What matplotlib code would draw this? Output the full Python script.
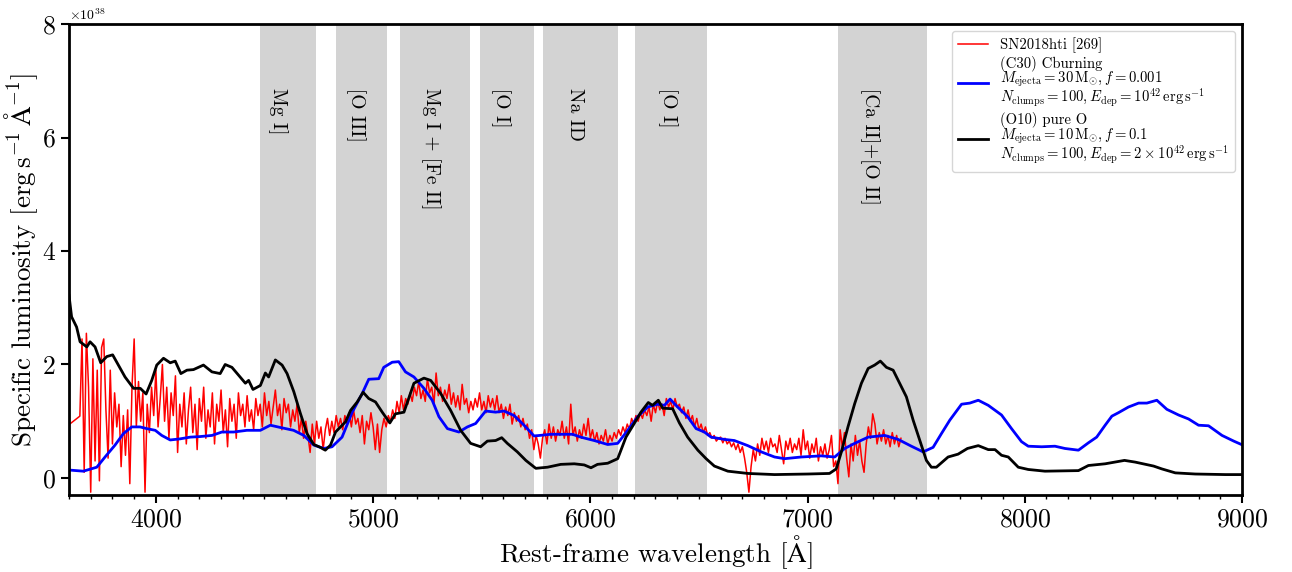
import matplotlib
matplotlib.use("Agg")
import matplotlib.pyplot as plt
from matplotlib.ticker import MultipleLocator

plt.rcParams["font.family"] = "serif"
plt.rcParams["font.serif"] = ["cmr10"]
plt.rcParams["mathtext.fontset"] = "cm"
plt.rcParams["axes.formatter.use_mathtext"] = True
plt.rcParams["axes.unicode_minus"] = False

# --- data (luminosity in units of 1e38 erg/s/A) ---
black_wave = [3600, 3612, 3635, 3651, 3682, 3697, 3720, 3746, 3774, 3801,
              3823, 3858, 3897, 3928, 3955, 3981, 4004, 4035, 4066, 4089,
              4115, 4143, 4173, 4219, 4258, 4296, 4319, 4350, 4388, 4412,
              4427, 4447, 4481, 4504, 4519, 4550, 4581, 4604, 4635, 4665,
              4696, 4727, 4757, 4780, 4804, 4827, 4850, 4873, 4896, 4927,
              4954, 4980, 5011, 5042, 5077, 5103, 5142, 5188, 5234, 5265,
              5311, 5357, 5403, 5449, 5495, 5526, 5564, 5592, 5618, 5664,
              5703, 5749, 5803, 5864, 5926, 5972, 6003, 6033, 6080, 6126,
              6164, 6202, 6233, 6267, 6286, 6313, 6333, 6379, 6410, 6448,
              6495, 6533, 6571, 6633, 6725, 6848, 7002, 7101, 7132, 7155,
              7186, 7217, 7248, 7279, 7309, 7335, 7363, 7394, 7424, 7455,
              7486, 7516, 7547, 7570, 7593, 7647, 7693, 7736, 7786, 7832,
              7863, 7893, 7924, 7970, 8016, 8093, 8247, 8293, 8370, 8459,
              8508, 8593, 8631, 8693, 8785, 8923, 9015]
black_lum = [3.22, 2.84, 2.66, 2.40, 2.31, 2.40, 2.31, 2.03, 2.14, 2.17,
             2.02, 1.78, 1.58, 1.58, 1.48, 1.72, 1.99, 2.11, 2.03, 2.06,
             1.84, 1.90, 1.91, 1.99, 1.87, 1.84, 2.00, 1.95, 1.78, 1.67,
             1.72, 1.56, 1.63, 1.85, 1.78, 2.08, 1.99, 1.84, 1.52, 1.14,
             0.78, 0.59, 0.54, 0.49, 0.58, 0.81, 0.90, 0.99, 1.19, 1.34,
             1.51, 1.40, 1.34, 1.16, 0.97, 1.13, 1.16, 1.67, 1.76, 1.72,
             1.49, 1.19, 0.84, 0.61, 0.55, 0.65, 0.66, 0.71, 0.61, 0.46,
             0.31, 0.17, 0.19, 0.24, 0.25, 0.23, 0.18, 0.24, 0.26, 0.34,
             0.72, 0.96, 1.16, 1.33, 1.28, 1.37, 1.23, 1.22, 0.97, 0.72,
             0.49, 0.34, 0.21, 0.12, 0.08, 0.06, 0.07, 0.08, 0.16, 0.45,
             0.90, 1.31, 1.67, 1.93, 1.99, 2.06, 1.95, 1.90, 1.67, 1.43,
             1.02, 0.67, 0.31, 0.19, 0.19, 0.37, 0.42, 0.52, 0.57, 0.50,
             0.50, 0.40, 0.37, 0.19, 0.15, 0.12, 0.13, 0.22, 0.25, 0.31,
             0.28, 0.21, 0.16, 0.09, 0.07, 0.06, 0.06]

blue_wave = [3600, 3666, 3728, 3766, 3812, 3850, 3889, 3927, 3958, 3997,
             4027, 4066, 4112, 4158, 4204, 4258, 4304, 4358, 4419, 4481,
             4527, 4573, 4634, 4681, 4727, 4773, 4811, 4857, 4904, 4950,
             4980, 5026, 5049, 5088, 5118, 5149, 5188, 5234, 5272, 5303,
             5342, 5395, 5434, 5472, 5518, 5564, 5603, 5649, 5695, 5741,
             5818, 5918, 5956, 6018, 6080, 6126, 6172, 6218, 6264, 6310,
             6341, 6367, 6402, 6448, 6487, 6525, 6556, 6617, 6663, 6725,
             6787, 6848, 6894, 6971, 7063, 7125, 7171, 7217, 7279, 7355,
             7417, 7478, 7532, 7578, 7616, 7655, 7709, 7747, 7786, 7832,
             7893, 7939, 7985, 8016, 8078, 8139, 8185, 8247, 8293, 8331,
             8370, 8401, 8431, 8477, 8524, 8562, 8608, 8654, 8708, 8754,
             8800, 8846, 8908, 8962, 9015]
blue_lum = [0.14, 0.12, 0.19, 0.37, 0.58, 0.78, 0.90, 0.90, 0.87, 0.84,
            0.75, 0.67, 0.69, 0.72, 0.73, 0.75, 0.81, 0.81, 0.84, 0.84,
            0.93, 0.89, 0.84, 0.75, 0.58, 0.52, 0.55, 0.72, 1.16, 1.49,
            1.74, 1.75, 1.95, 2.04, 2.05, 1.87, 1.78, 1.58, 1.37, 1.08,
            0.87, 0.81, 0.90, 0.96, 1.18, 1.16, 1.18, 1.10, 0.93, 0.74,
            0.77, 0.77, 0.72, 0.66, 0.59, 0.61, 0.84, 1.08, 1.25, 1.30,
            1.28, 1.39, 1.25, 1.08, 0.87, 0.81, 0.72, 0.68, 0.66, 0.57,
            0.46, 0.37, 0.34, 0.37, 0.39, 0.37, 0.52, 0.61, 0.72, 0.75,
            0.68, 0.56, 0.46, 0.54, 0.78, 1.02, 1.30, 1.32, 1.37, 1.28,
            1.11, 0.87, 0.64, 0.56, 0.55, 0.56, 0.52, 0.49, 0.62, 0.72,
            0.93, 1.09, 1.15, 1.25, 1.32, 1.32, 1.37, 1.21, 1.11, 1.04,
            0.93, 0.92, 0.75, 0.65, 0.56]

# SN2018hti: two leading points, then a 10 A grid 3660..7430
red_wave = [3600, 3650] + list(range(3660, 7440, 10))
red_lum = [0.94, 1.09,
    2.45, 0.1, 2.55, 1.6, -0.25, 2.1, 0.3, 1.9, -0.05, 2.3,
    2.45, 1.2, 0.35, 1.9, 0.6, 1.5, 0.9, 1.3, 0.2, 1.1,
    0.4, 1.2, -0.1, 1.6, 2.45, 0.9, 1.7, 1.0, 1.5, -0.25,
    1.3, 0.8, 1.6, 1.1, 1.9, 0.9, 1.4, 2.0, 1.0, 1.6,
    0.7, 1.5, 1.1, 1.8, 0.45, 1.3, 0.9, 1.5, 0.6, 1.2,
    1.6, 0.8, 1.3, 0.5, 1.4, 1.0, 1.6, 0.7, 1.2, 0.9,
    1.5, 0.6, 1.3, 1.0, 1.55, 0.8, 1.2, 0.55, 1.4, 1.0,
    1.3, 0.7, 1.5, 1.1, 1.3, 0.9, 1.45, 1.0, 1.2, 0.85,
    1.4, 1.1, 1.3, 0.9, 1.5, 1.1, 1.35, 0.95, 1.25, 1.55,
    1.1, 1.3, 0.85, 1.4, 1.15, 1.3, 0.9, 1.2, 1.0, 1.3,
    0.8, 1.05, 0.7, 1.0, 0.75, 0.45, 0.95, 0.6, 1.0, 0.7,
    0.9, 0.5, 0.85, 1.05, 0.75, 1.0, 0.8, 1.1, 0.9, 1.05,
    0.85, 1.1, 0.95, 1.15, 0.9, 1.2, 0.95, 1.05, 0.8, 1.1,
    0.6, 1.0, 0.85, 1.15, 0.9, 0.5, 0.95, 0.45, 0.85, 1.05,
    0.9, 1.1, 1.0, 1.2, 1.05, 1.35, 1.15, 1.45, 1.2, 1.4,
    1.3, 1.5, 1.35, 1.6, 1.45, 1.7, 1.4, 1.55, 1.35, 1.75,
    1.5, 1.6, 1.3, 1.85, 1.45, 1.6, 1.35, 1.55, 1.4, 1.65,
    1.3, 1.5, 1.25, 1.45, 1.2, 1.65, 1.3, 1.4, 1.15, 1.35,
    1.2, 1.4, 1.25, 1.5, 1.2, 1.35, 1.15, 1.45, 1.25, 1.4,
    1.2, 1.45, 1.15, 1.3, 1.05, 1.25, 1.1, 1.3, 0.95, 1.15,
    1.0, 1.1, 0.9, 1.05, 0.85, 0.95, 0.7, 0.85, 0.5, 0.75,
    0.6, 0.35, 0.7, 0.85, 0.6, 0.95, 0.7, 0.9, 0.65, 0.85,
    0.75, 1.0, 0.7, 0.9, 0.6, 1.3, 0.75, 0.9, 0.65, 0.85,
    0.7, 0.95, 0.75, 1.05, 0.7, 0.85, 0.65, 0.8, 0.6, 0.75,
    0.65, 0.85, 0.6, 0.75, 0.65, 0.8, 0.7, 0.85, 0.75, 0.9,
    0.8, 0.95, 0.85, 1.05, 0.95, 1.1, 1.0, 1.15, 1.05, 1.2,
    1.1, 1.25, 1.0, 1.3, 1.15, 1.35, 1.2, 1.3, 1.1, 1.4,
    1.25, 1.35, 1.2, 1.4, 1.25, 1.3, 1.15, 1.25, 1.05, 1.2,
    1.0, 1.1, 0.9, 1.05, 0.85, 0.95, 0.8, 0.9, 0.75, 0.8,
    0.7, 0.75, 0.65, 0.7, 0.72, 0.62, 0.7, 0.6, 0.65, 0.55,
    0.62, 0.5, 0.6, 0.45, 0.55, 0.35, 0.1, -0.25, 0.2, 0.5,
    0.3, 0.6, 0.4, 0.7, 0.5, 0.65, 0.45, 0.7, 0.55, 0.6,
    0.45, 0.75, 0.5, 0.25, 0.65, 0.5, 0.7, 0.45, 0.6, 0.5,
    0.7, 0.4, 0.85, 0.5, 0.65, 0.35, 0.6, 0.45, 0.7, 0.3,
    0.55, 0.4, 0.6, 0.35, 0.5, 0.75, 0.2, 0.3, -0.1, 0.85,
    0.55, 0.8, 0.35, 0.02, 0.6, 0.3, 0.75, 0.4, 0.65, 0.3,
    0.1, 0.6, 0.9, 0.7, 1.13, 0.95, 0.6, 0.8, 0.65, 0.85,
    0.6, 0.75, 0.55, 0.8, 0.6, 0.75, 0.55, 0.7]

band_lo = [4480, 4827, 5126, 5490, 5781, 6205, 7142]
band_hi = [4735, 5062, 5445, 5740, 6127, 6537, 7552]
band_text_x = [4561, 4919, 5265, 5588, 5929, 6356, 7285]
band_labels = ["Mg I]", "[O III]", "Mg I + [Fe II]", "[O I]", "Na ID", "[O I]", "[Ca II]+[O II]"]

scale = 1e38

fig = plt.figure(figsize=(12.92, 5.72), dpi=100)
ax = fig.add_axes([0.0534, 0.1346, 0.9079, 0.8234])

for lo, hi in zip(band_lo, band_hi):
    ax.axvspan(lo, hi, color="lightgrey", lw=0, zorder=0)
for tx, lab in zip(band_text_x, band_labels):
    ax.text(tx, 6.88 * scale, lab, rotation=270, ha="center", va="top", fontsize=14)

ax.plot(red_wave, [v * scale for v in red_lum], color="red", lw=1.1, label="SN2018hti [269]")
ax.plot(blue_wave, [v * scale for v in blue_lum], color="blue", lw=2,
        label="(C30) Cburning\n$M_{\\rm ejecta} = 30\\,{\\rm M}_{\\odot}, f = 0.001$\n"
              "$N_{\\rm clumps} = 100, E_{\\rm dep} = 10^{42}\\,{\\rm erg\\,s^{-1}}$")
ax.plot(black_wave, [v * scale for v in black_lum], color="black", lw=2,
        label="(O10) pure O\n$M_{\\rm ejecta} = 10\\,{\\rm M}_{\\odot}, f = 0.1$\n"
              "$N_{\\rm clumps} = 100, E_{\\rm dep} = 2\\times10^{42}\\,{\\rm erg\\,s^{-1}}$")

ax.set_xlim(3600, 9000)
ax.set_ylim(-0.3 * scale, 8 * scale)
ax.xaxis.set_minor_locator(MultipleLocator(100))
ax.yaxis.set_major_locator(MultipleLocator(2 * scale))
ax.tick_params(axis="both", which="major", labelsize=18.5, length=6, width=1.5)
ax.tick_params(axis="x", which="minor", length=3, width=1)
ax.yaxis.get_offset_text().set_fontsize(10)
for s in ax.spines.values():
    s.set_linewidth(2)

ax.set_xlabel("Rest-frame wavelength [$\\rm\\AA$]", fontsize=19.5, labelpad=1)
ax.set_ylabel("Specific luminosity [${\\rm erg\\,s^{-1}\\,\\AA^{-1}}$]", fontsize=19.5, labelpad=1)

leg = ax.legend(loc="upper right", fontsize=10.6, handlelength=2.0, labelspacing=0.2)
for t in leg.get_texts():
    t.set_linespacing(0.85)

fig.savefig("out.png", dpi=100)
